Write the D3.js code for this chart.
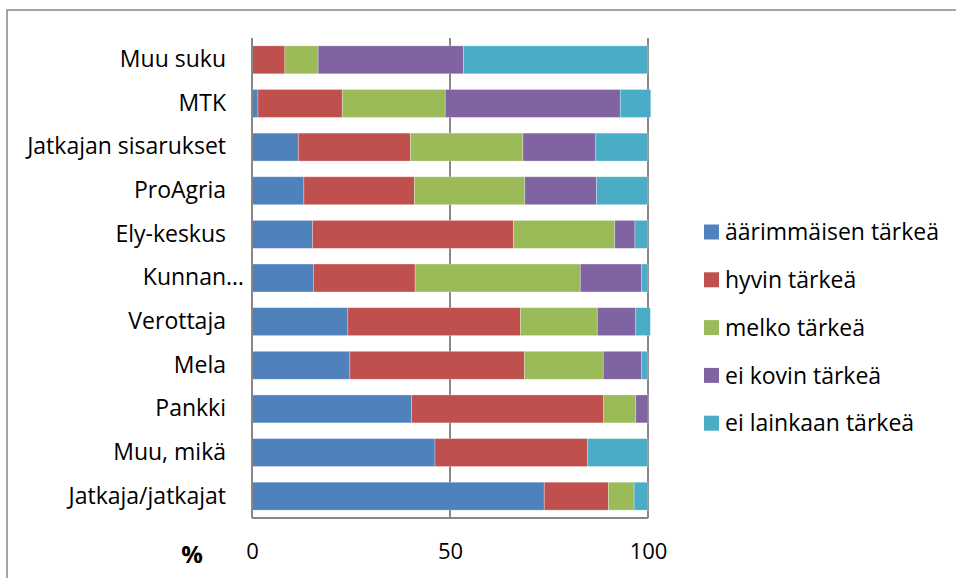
<!DOCTYPE html>
<html>
<head>
<meta charset="utf-8">
<script src="https://cdn.jsdelivr.net/npm/d3@7"></script>
<style>
  body { margin: 0; background: #fff; }
  text { font-family: "Open Sans", "Noto Sans", sans-serif; fill: #000; }
</style>
</head>
<body>
<div id="my_dataviz"></div>
<script>
// data, top to bottom as in the chart
const categories = ["Muu suku", "MTK", "Jatkajan sisarukset", "ProAgria", "Ely-keskus", "Kunnan…",
    "Verottaja", "Mela", "Pankki", "Muu, mikä", "Jatkaja/jatkajat"];
const seriesNames = ["äärimmäisen tärkeä", "hyvin tärkeä", "melko tärkeä", "ei kovin tärkeä", "ei lainkaan tärkeä"];
const aarimmaisen = [0, 1.5, 11.7, 13.1, 15.3, 15.5, 24.2, 24.7, 40.3, 46.2, 73.8];
const hyvin = [8.3, 21.3, 28.3, 27.9, 50.7, 25.7, 43.6, 44.1, 48.5, 38.5, 16.2];
const melko = [8.4, 26.0, 28.4, 27.9, 25.6, 41.7, 19.4, 19.9, 8.1, 0, 6.5];
const eiKovin = [36.7, 44.2, 18.4, 18.1, 5.1, 15.5, 9.7, 9.7, 3.1, 0, 0];
const eiLainkaan = [46.6, 7.7, 13.2, 13.0, 3.3, 1.6, 3.7, 1.6, 0, 15.3, 3.5];
const xTicks = [0, 50, 100];

const colors = ["#4f81bd", "#c0504d", "#9bbb59", "#8064a2", "#4bacc6"];
const seriesValues = [aarimmaisen, hyvin, melko, eiKovin, eiLainkaan];

const W = 956, H = 578;
const margin = { top: 38, right: 308, bottom: 60, left: 252 };
const width = W - margin.left - margin.right;
const height = H - margin.top - margin.bottom;

const root = d3.select("#my_dataviz")
    .append("svg")
    .attr("width", W)
    .attr("height", H);

// outer chart border (only top and left visible in the picture)
root.append("path")
    .attr("d", `M7,${H} V10 H${W}`)
    .attr("fill", "none")
    .attr("stroke", "#878787")
    .attr("stroke-width", 1.5);

const svg = root.append("g")
    .attr("transform", `translate(${margin.left}, ${margin.top})`);

// build rows for the stack
const rows = categories.map((c, i) => {
    const r = { name: c };
    seriesNames.forEach((s, j) => r[s] = seriesValues[j][i]);
    return r;
});

const stackedData = d3.stack().keys(seriesNames)(rows);

const xScale = d3.scaleLinear().domain([0, 100]).range([0, width]);
const yScale = d3.scaleBand()
    .domain(categories)
    .range([0, height])
    .paddingInner(0.36)
    .paddingOuter(0.18);
const color = d3.scaleOrdinal(seriesNames, colors);

// vertical grid lines
svg.append("g")
    .selectAll("line")
    .data(xTicks.slice(1))
    .join("line")
    .attr("x1", d => xScale(d))
    .attr("x2", d => xScale(d))
    .attr("y1", 0)
    .attr("y2", height)
    .attr("stroke", "#878787")
    .attr("stroke-width", 2);

// bars
svg.append("g")
    .selectAll("g")
    .data(stackedData)
    .join("g")
    .attr("fill", d => color(d.key))
    .selectAll("rect")
    .data(d => d)
    .join("rect")
    .attr("x", d => xScale(d[0]))
    .attr("y", d => yScale(d.data.name))
    .attr("width", d => Math.max(0, xScale(d[1]) - xScale(d[0])))
    .attr("height", yScale.bandwidth())
    .attr("stroke", "#ffffff")
    .attr("stroke-opacity", 0.35)
    .attr("stroke-width", 0.8);

// y axis
svg.append("g")
    .call(d3.axisLeft(yScale).tickSize(0).tickPadding(26))
    .call(g => g.select(".domain").attr("stroke", "#878787").attr("stroke-width", 2).attr("d", `M0,0V${height}`))
    .call(g => g.selectAll("text").style("font-size", "23px").attr("fill", "#000"))
    // the truncated label sits closer to the axis, like in excel
    .call(g => g.selectAll("text").filter(d => d.endsWith("…")).attr("x", -8));

// x axis
svg.append("g")
    .attr("transform", `translate(0, ${height})`)
    .call(d3.axisBottom(xScale).tickValues(xTicks).tickSize(0).tickPadding(25))
    .call(g => g.select(".domain").attr("stroke", "#878787").attr("stroke-width", 2).attr("d", `M0,0H${width}`))
    .call(g => g.selectAll("text").style("font-size", "22px").attr("fill", "#000"));

// axis unit
svg.append("text")
    .attr("x", -60)
    .attr("y", height + 45)
    .attr("text-anchor", "middle")
    .style("font-size", "24px")
    .style("font-weight", "bold")
    .text("%");

// legend
const legend = root.append("g")
    .attr("transform", "translate(704, 232)");
const item = legend.selectAll("g")
    .data(seriesNames)
    .join("g")
    .attr("transform", (d, i) => `translate(0, ${i * 47.8})`);
item.append("rect")
    .attr("x", 0)
    .attr("y", -7.5)
    .attr("width", 15)
    .attr("height", 15)
    .attr("fill", d => color(d));
item.append("text")
    .attr("x", 21)
    .attr("y", 0)
    .attr("dy", "0.36em")
    .style("font-size", "23px")
    .text(d => d);
</script>
</body>
</html>
